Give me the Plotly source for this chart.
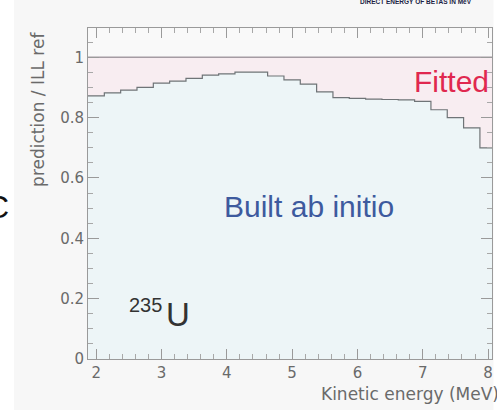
import plotly.graph_objects as go

# Data: bin centres (MeV) and prediction / ILL ref ratio
energy = [2.0, 2.25, 2.5, 2.75, 3.0, 3.25, 3.5, 3.75, 4.0, 4.25, 4.5, 4.75, 5.0,
          5.25, 5.5, 5.75, 6.0, 6.25, 6.5, 6.75, 7.0, 7.25, 7.5, 7.75, 8.0]
ratio = [0.872, 0.882, 0.891, 0.900, 0.914, 0.921, 0.930, 0.941, 0.945, 0.951,
         0.951, 0.938, 0.925, 0.911, 0.885, 0.866, 0.864, 0.861, 0.860, 0.859,
         0.854, 0.826, 0.800, 0.766, 0.700]
bin_width = 0.25
x_ticks = [2, 3, 4, 5, 6, 7, 8]
y_ticks = [0, 0.2, 0.4, 0.6, 0.8, 1]
y_tick_text = ["0", "0.2", "0.4", "0.6", "0.8", "1"]

# step edges from bins
edges = [e - bin_width / 2 for e in energy] + [energy[-1] + bin_width / 2]
vals = ratio + [ratio[-1]]

W, H = 497, 410
ML, MR, MT, MB = 88, 5, 28, 50.5
XR = [1.875, 8.06]
YR = [0, 1.097]
PW = W - ML - MR
PH = H - MT - MB

def px(xp):
    return (xp - ML) / PW

def py(yp):
    return (H - MB - yp) / PH

fig = go.Figure()
# pink band up to 1
fig.add_trace(go.Scatter(x=[XR[0], XR[1]], y=[1, 1], mode="lines",
                         line=dict(color="#a59ca3", width=1.5),
                         fill="tozeroy", fillcolor="#f8edf1",
                         hoverinfo="skip", showlegend=False))
# histogram
fig.add_trace(go.Scatter(x=edges, y=vals, mode="lines", line_shape="hv",
                         line=dict(color="#6f7477", width=1.2),
                         fill="tozeroy", fillcolor="#edf5f7",
                         hoverinfo="skip", showlegend=False))

tickfont = dict(family="DejaVu Sans", size=15, color="#6a6a6a")
fig.update_xaxes(range=XR, tickvals=x_ticks, ticks="inside", ticklen=10,
                 tickcolor="#9a9a9a", showline=True, linecolor="#9a9a9a",
                 mirror="allticks", showgrid=False, zeroline=False,
                 tickfont=tickfont,
                 minor=dict(dtick=0.2, tick0=2, ticks="inside", ticklen=5,
                            tickcolor="#a8a8a8", showgrid=False))
fig.update_yaxes(range=YR, tickvals=y_ticks, ticktext=y_tick_text,
                 ticks="inside", ticklen=11, tickcolor="#9a9a9a",
                 showline=True, linecolor="#9a9a9a", mirror="allticks",
                 showgrid=False, zeroline=False, tickfont=tickfont,
                 minor=dict(dtick=0.05, tick0=0, ticks="inside", ticklen=5,
                            tickcolor="#a8a8a8", showgrid=False))

ann = []
ann.append(dict(xref="paper", yref="paper", x=px(38), y=py(110),
                text="prediction / ILL ref", textangle=-90, showarrow=False,
                xanchor="center", yanchor="middle",
                font=dict(family="DejaVu Sans", size=17, color="#6a6a6a")))
ann.append(dict(xref="paper", yref="paper", x=px(319), y=py(395),
                text="Kinetic energy (MeV)", showarrow=False,
                xanchor="left", yanchor="middle",
                font=dict(family="DejaVu Sans", size=17, color="#6a6a6a")))
ann.append(dict(x=6.84, y=0.919, text="Fitted", showarrow=False,
                xanchor="left", yanchor="middle",
                font=dict(family="Liberation Sans", size=30, color="#e0284f")))
ann.append(dict(x=3.93, y=0.507, text="Built ab initio", showarrow=False,
                xanchor="left", yanchor="middle",
                font=dict(family="Liberation Sans", size=30, color="#3d5a9e")))
ann.append(dict(x=2.465, y=0.180, text="235", showarrow=False,
                xanchor="left", yanchor="middle",
                font=dict(family="Liberation Sans", size=20, color="#333333")))
ann.append(dict(x=3.04, y=0.147, text="U", showarrow=False,
                xanchor="left", yanchor="middle",
                font=dict(family="Liberation Sans", size=33, color="#333333")))
ann.append(dict(xref="paper", yref="paper", x=px(-3), y=py(207), text="C",
                showarrow=False, xanchor="center", yanchor="middle",
                font=dict(family="Liberation Sans", size=32, color="#111111")))
ann.append(dict(xref="paper", yref="paper", x=px(416), y=py(1),
                text="<b>DIRECT ENERGY OF BETAS IN MeV</b>",
                showarrow=False, xanchor="center", yanchor="middle",
                font=dict(family="Liberation Sans", size=6.5, color="#1c1f45")))

shapes = [
    dict(type="rect", xref="paper", yref="paper", x0=px(-5), x1=px(14),
         y0=py(H + 5), y1=py(-5), fillcolor="#ffffff", line=dict(width=0),
         layer="below"),
    dict(type="rect", xref="paper", yref="paper", x0=px(493.5), x1=px(W + 5),
         y0=py(H + 5), y1=py(-5), fillcolor="#ffffff", line=dict(width=0),
         layer="below"),
]

fig.update_layout(width=W, height=H,
                  margin=dict(l=ML, r=MR, t=MT, b=MB),
                  paper_bgcolor="#f7f7f7", plot_bgcolor="#f9f9f9",
                  annotations=ann, shapes=shapes, showlegend=False)

fig.write_html("out.html")
